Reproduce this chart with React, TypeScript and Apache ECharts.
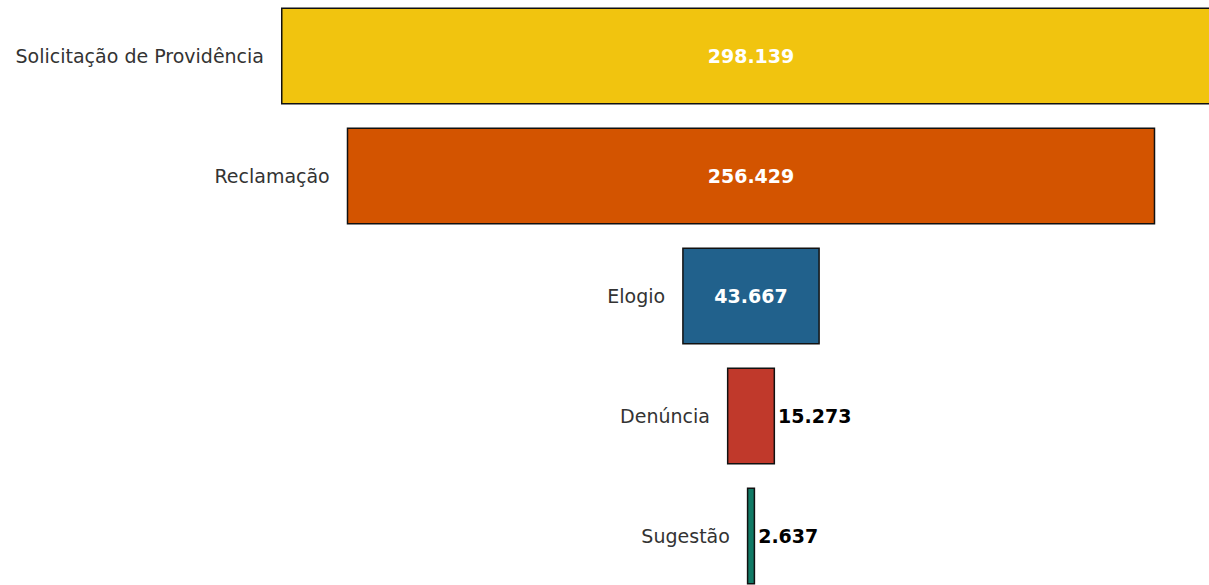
import React, { useEffect, useRef } from "react";
import * as echarts from "echarts";

const categories = ["Solicitação de Providência", "Reclamação", "Elogio", "Denúncia", "Sugestão"];
const values = [298139, 256429, 43667, 15273, 2637];
const colors = ["#F1C40F", "#D35400", "#21618C", "#C0392B", "#117A65"];
const insideLabel = [true, true, true, false, false];

const fmt = (v: number) => v.toLocaleString("pt-BR");

export default function App() {
  const ref = useRef<HTMLDivElement>(null);
  useEffect(() => {
    if (!ref.current) return;
    const chart = echarts.init(ref.current, undefined, { renderer: "svg" });
    const maxV = Math.max(...values);
    const center = maxV / 2;
    const bases = values.map((v) => center - v / 2);
    chart.setOption({
      animation: false,
      grid: { left: 281, width: 940, top: 6, height: 600, containLabel: false },
      xAxis: { type: "value", min: 0, max: maxV, show: false },
      yAxis: {
        type: "category",
        data: categories,
        inverse: true,
        show: false,
      },
      series: [
        {
          type: "bar",
          stack: "f",
          barWidth: 97,
          silent: true,
          itemStyle: { color: "transparent" },
          data: bases.map((b, i) => ({
            value: b,
            label: {
              show: true,
              position: "insideRight",
              distance: 17,
              formatter: categories[i],
              color: "#333333",
              fontSize: 19,
              fontFamily: "DejaVu Sans",
            },
          })),
        },
        {
          type: "bar",
          stack: "f",
          barWidth: 97,
          data: values.map((v, i) => ({
            value: v,
            itemStyle: { color: colors[i], borderColor: "#111", borderWidth: 1.5 },
            label: {
              show: true,
              position: insideLabel[i] ? "inside" : "right",
              distance: 3,
              formatter: fmt(v),
              color: insideLabel[i] ? "#ffffff" : "#000000",
              fontSize: 19,
              fontWeight: "bold",
              fontFamily: "DejaVu Sans",
            },
          })),
        },
      ],
    });
    return () => chart.dispose();
  }, []);
  return (
    <div style={{ width: 1209, height: 585, position: "absolute", left: 0, top: 0, overflow: "hidden" }}>
      <div ref={ref} style={{ width: 1240, height: 630, position: "absolute", left: 0, top: -10 }} />
    </div>
  );
}
